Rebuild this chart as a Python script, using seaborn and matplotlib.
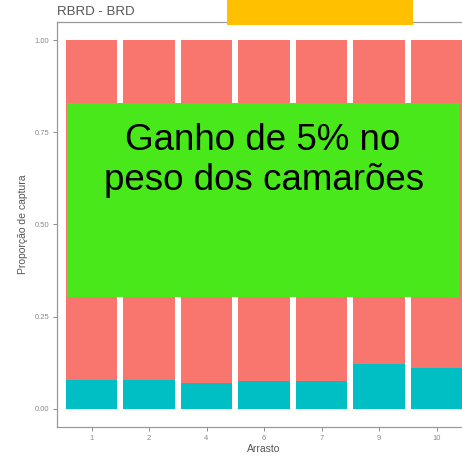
import matplotlib
matplotlib.use("Agg")
import matplotlib.pyplot as plt
import matplotlib.patches as patches
import seaborn as sns
import pandas as pd

# Data
arrasto = ["1", "2", "4", "6", "7", "9", "10"]
prop_teal = [0.077, 0.077, 0.069, 0.076, 0.076, 0.120, 0.109]
prop_total = [1.0, 1.0, 1.0, 1.0, 1.0, 1.0, 1.0]
y_ticks = [0.00, 0.25, 0.50, 0.75, 1.00]
y_tick_labels = ["0.00", "0.25", "0.50", "0.75", "1.00"]

df = pd.DataFrame({"Arrasto": arrasto, "teal": prop_teal, "total": prop_total})

sns.set_style("white")
plt.rcParams["font.family"] = ["Liberation Sans", "DejaVu Sans"]

W, H = 462, 469
fig = plt.figure(figsize=(W / 100, H / 100), dpi=100)
ax = fig.add_axes([57 / W, (H - 427) / H, (471 - 57) / W, (427 - 22) / H])

# red (top part) drawn as the full stack, teal on top of it
sns.barplot(data=df, x="Arrasto", y="total", color="#F8766D", width=0.9,
            saturation=1, ax=ax, order=arrasto)
sns.barplot(data=df, x="Arrasto", y="teal", color="#00BFC4", width=0.9,
            saturation=1, ax=ax, order=arrasto)
for p in ax.patches:
    p.set_linewidth(0)

ax.set_xlim(-0.6, len(arrasto) - 0.4)
ax.set_ylim(-0.05, 1.05)
ax.set_yticks(y_ticks)
ax.set_yticklabels(y_tick_labels)

for s in ax.spines.values():
    s.set_color("#9a9a9a")
    s.set_linewidth(0.9)
ax.tick_params(axis="both", length=3, width=0.6, color="#7a7a7a",
               labelsize=5.5, labelcolor="#8a8a8a", pad=2.5, left=True, bottom=True)

ax.set_xlabel("Arrasto", fontsize=7.5, color="#555555", labelpad=2)
ax.set_ylabel("Proporção de captura", fontsize=7.5, color="#555555", labelpad=5)
ax.set_title("RBRD - BRD", loc="left", fontsize=9.5, color="#555555", pad=5, x=0.0)

# green overlay box with text
fig.patches.append(patches.Rectangle((67 / W, 1 - 297 / H), (459 - 67) / W, (297 - 103) / H,
                                     transform=fig.transFigure, facecolor="#49E81A",
                                     edgecolor="none", zorder=5))
fig.text(263 / W, 1 - 150 / H, "Ganho de 5% no", ha="center", va="baseline",
         fontsize=26.5, color="black", zorder=6)
fig.text(264 / W, 1 - 190 / H, "peso dos camarões", ha="center", va="baseline",
         fontsize=26.5, color="black", zorder=6)

# yellow box at the top
fig.patches.append(patches.Rectangle((227 / W, 1 - 25 / H), (413 - 227) / W, 25 / H,
                                     transform=fig.transFigure, facecolor="#FFC000",
                                     edgecolor="none", zorder=5))

fig.savefig("out.png", dpi=100)
